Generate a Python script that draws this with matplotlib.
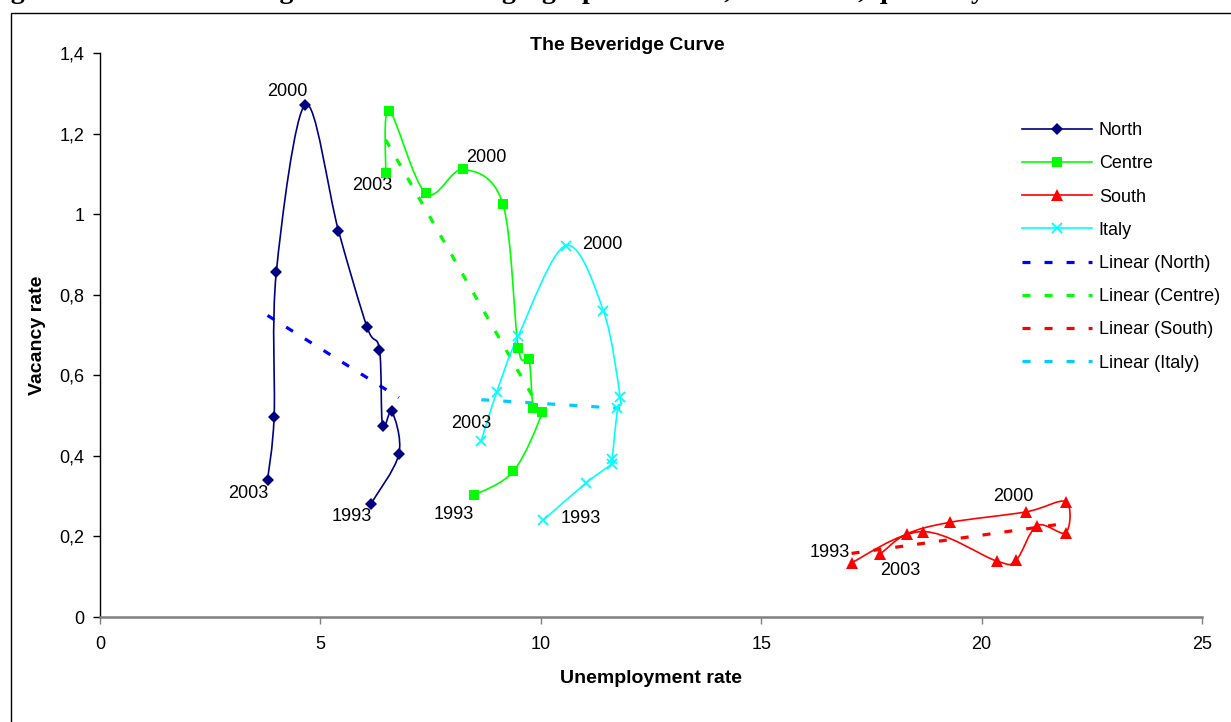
import numpy as np
import matplotlib
matplotlib.use("Agg")
import matplotlib.pyplot as plt
from matplotlib.path import Path
from matplotlib.patches import PathPatch, Rectangle
from matplotlib.lines import Line2D

plt.rcParams['font.family'] = ['Liberation Sans', 'DejaVu Sans']

years = [1993, 1994, 1995, 1996, 1997, 1998, 1999, 2000, 2001, 2002, 2003]

# unemployment rate (x) and vacancy rate (y), yearly points
north_u = [6.14, 6.78, 6.62, 6.41, 6.34, 6.06, 5.41, 4.66, 4.00, 3.95, 3.80]
north_v = [0.280, 0.404, 0.511, 0.475, 0.664, 0.719, 0.959, 1.272, 0.856, 0.497, 0.340]

centre_u = [8.48, 9.38, 10.03, 9.83, 9.73, 9.49, 9.14, 8.24, 7.39, 6.56, 6.48]
centre_v = [0.302, 0.362, 0.508, 0.520, 0.641, 0.667, 1.025, 1.111, 1.052, 1.257, 1.103]

south_u = [17.05, 18.66, 20.34, 20.78, 21.26, 21.91, 21.91, 21.01, 19.28, 18.30, 17.70]
south_v = [0.135, 0.212, 0.139, 0.141, 0.227, 0.209, 0.286, 0.261, 0.235, 0.206, 0.156]

italy_u = [10.06, 11.03, 11.62, 11.62, 11.74, 11.80, 11.42, 10.57, 9.49, 9.00, 8.65]
italy_v = [0.241, 0.333, 0.381, 0.391, 0.518, 0.545, 0.760, 0.922, 0.698, 0.558, 0.438]

x_ticks = [0, 5, 10, 15, 20, 25]
y_ticks = [0, 0.2, 0.4, 0.6, 0.8, 1.0, 1.2, 1.4]
y_tick_labels = ['0', '0,2', '0,4', '0,6', '0,8', '1', '1,2', '1,4']

labelled_years = [1993, 2000, 2003]

# name, x, y, line colour, marker, marker size, trend colour, label offsets (pt) for 1993/2000/2003
series = [
    ('North', north_u, north_v, '#000080', 'D', 6.5, '#0000FF',
     {1993: (-13.7, -8.6), 2000: (-13, 9.4), 2003: (-13.7, -10)}),
    ('Centre', centre_u, centre_v, '#00FF00', 's', 7.5, '#00FF00',
     {1993: (-14.4, -13.7), 2000: (16.6, 8.6), 2003: (-9.4, -9.4)}),
    ('South', south_u, south_v, '#FF0000', '^', 8, '#FF0000',
     {1993: (-15.8, 7.2), 2000: (-9.4, 10.8), 2003: (14.4, -11.5)}),
    ('Italy', italy_u, italy_v, '#00FFFF', 'x', 7.5, '#00CCFF',
     {1993: (26.6, 0.7), 2000: (26, 0.7), 2003: (-7.2, 12.2)}),
]


def smooth_path(x, y):
    # Excel-style smoothed line: Catmull-Rom segments as cubic Beziers
    pts = np.column_stack([x, y])
    p = np.vstack([pts[0], pts, pts[-1]])
    verts = [pts[0]]
    codes = [Path.MOVETO]
    for i in range(1, len(p) - 2):
        c1 = p[i] + (p[i + 1] - p[i - 1]) / 6
        c2 = p[i + 1] - (p[i + 2] - p[i]) / 6
        verts += [c1, c2, p[i + 1]]
        codes += [Path.CURVE4] * 3
    return Path(verts, codes)


fig = plt.figure(figsize=(12.31, 7.22), dpi=100)
ax = fig.add_axes([100 / 1231, 1 - 617 / 722, 1102 / 1231, 564 / 722])

dash = (2.5, 4.4)
line_handles = []
trend_handles = []
for name, u, v, col, mk, ms, tcol, offs in series:
    ax.add_patch(PathPatch(smooth_path(u, v), fill=False, edgecolor=col, lw=1.2, zorder=3))
    mew = 1.3 if mk == 'x' else 0
    ax.plot(u, v, linestyle='none', marker=mk, ms=ms, color=col, mew=mew, zorder=4)
    # linear trendline over the series' x range
    k, b = np.polyfit(u, v, 1)
    xs = np.array([min(u), max(u)])
    ax.plot(xs, k * xs + b, color=tcol, lw=2.3, linestyle=(0, dash), zorder=2)
    for yr in labelled_years:
        i = years.index(yr)
        ax.annotate(str(yr), (u[i], v[i]), xytext=offs[yr], textcoords='offset points',
                    ha='center', va='center', fontsize=13, color='black')
    line_handles.append(Line2D([], [], color=col, lw=1.2, marker=mk, ms=ms, mew=mew, label=name))
    trend_handles.append(Line2D([], [], color=tcol, lw=2.3, linestyle=(0, dash),
                                label='Linear (%s)' % name))

ax.set_xlim(0, 25)
ax.set_ylim(0, 1.4)
ax.set_xticks(x_ticks)
ax.set_xticklabels([str(t) for t in x_ticks])
ax.set_yticks(y_ticks)
ax.set_yticklabels(y_tick_labels)
ax.tick_params(axis='both', labelsize=13, length=5, width=1, direction='out')
ax.tick_params(axis='y', pad=6)
ax.tick_params(axis='x', pad=9, color='#808080')

for s in ['top', 'right']:
    ax.spines[s].set_visible(False)
ax.spines['left'].set_color('black')
ax.spines['left'].set_linewidth(1)
ax.spines['bottom'].set_color('#808080')
ax.spines['bottom'].set_linewidth(1.8)

ax.set_xlabel('Unemployment rate', fontsize=14, fontweight='bold')
ax.set_ylabel('Vacancy rate', fontsize=14, fontweight='bold')
ax.xaxis.set_label_coords(0.5, -0.094)
ax.yaxis.set_label_coords(-0.049, 0.5)

fig.text(627 / 1231, 1 - 46 / 722, 'The Beveridge Curve', ha='center', va='center',
         fontsize=14, fontweight='bold')

leg = ax.legend(handles=line_handles + trend_handles, loc='upper left',
                bbox_to_anchor=(1022 / 1231, 1 - 122 / 722), bbox_transform=fig.transFigure,
                frameon=False, fontsize=13, handlelength=3.9, handletextpad=0.35,
                labelspacing=0.9, borderpad=0, borderaxespad=0)

# chart area border (right and bottom edges fall outside the picture)
fig.patches.append(Rectangle((11 / 1231, -0.1), 1.2, 1.1 - 13 / 722, transform=fig.transFigure,
                             fill=False, edgecolor='black', lw=1))

# document caption, cut off at the top of the picture
fig.text(-14 / 1231, 1 + 2 / 722,
         'Figure 3.2 \u2013 The Beveridge curve in Italian geographical areas, 1993-2003, quarterly data',
         ha='left', va='baseline', fontsize=20, fontweight='bold', family='Liberation Serif')

fig.savefig('out.png', dpi=100)
